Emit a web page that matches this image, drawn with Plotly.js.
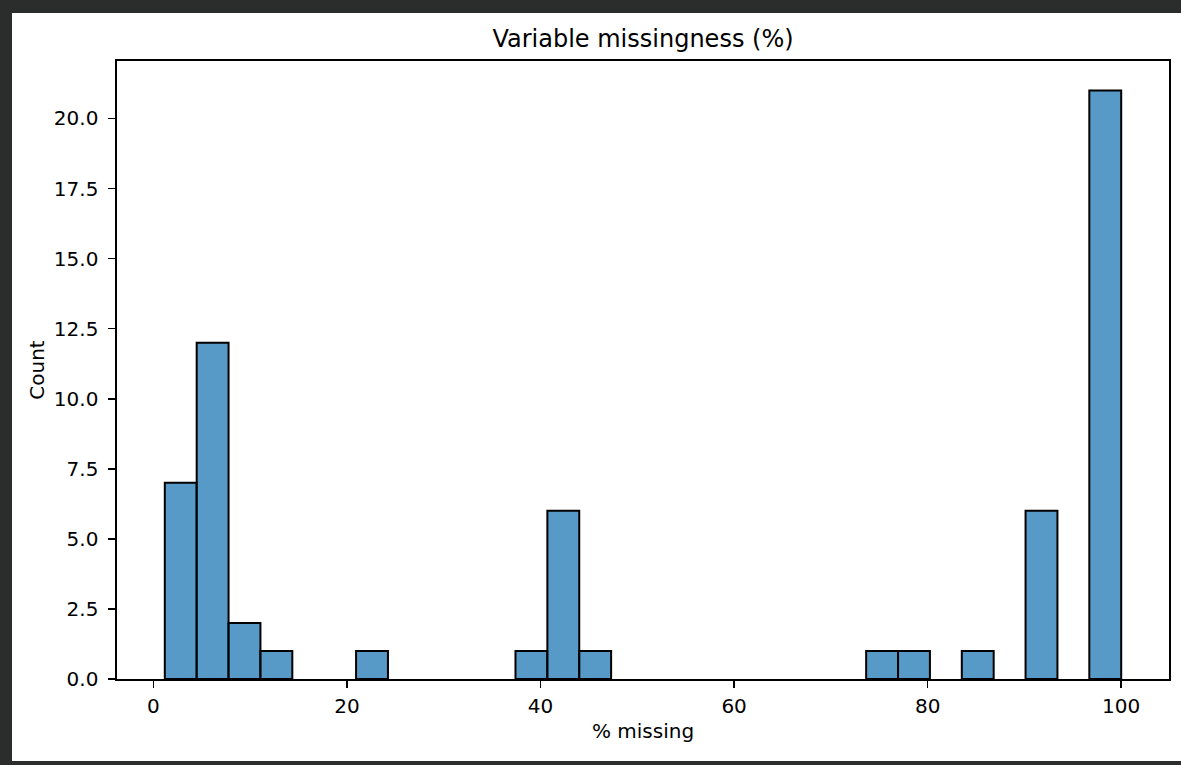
<!DOCTYPE html>
<html>
<head>
<meta charset="utf-8">
<script src="https://cdn.plot.ly/plotly-3.0.1.min.js"></script>
<style>
  html, body { margin: 0; padding: 0; background: #2b2d2d; width: 1181px; height: 765px; overflow: hidden; }
  #chart { position: absolute; left: 12px; top: 13px; width: 1169px; height: 748px; background: #ffffff; }
</style>
</head>
<body>
<div id="chart"></div>
<script>
// Histogram of per-variable missingness: 30 equal bins between the lowest value and 100 %
const binStart = 1.17;
const binEnd = 100;
const counts = [7, 12, 2, 1, 0, 0, 1, 0, 0, 0, 0, 1, 6, 1, 0, 0, 0, 0, 0, 0, 0, 0, 1, 1, 0, 1, 0, 6, 0, 21];
const xTickVals = [0, 20, 40, 60, 80, 100];
const yTickVals = [0, 2.5, 5, 7.5, 10, 12.5, 15, 17.5, 20];

const binWidth = (binEnd - binStart) / counts.length;
const centers = counts.map((_, i) => binStart + binWidth * (i + 0.5));
// empty bins are left undrawn so their outline does not thicken the bottom spine
const heights = counts.map(c => (c === 0 ? null : c));

const font = "DejaVu Sans, sans-serif";

const trace = {
  type: "bar",
  x: centers,
  y: heights,
  width: binWidth,
  marker: {
    color: "rgba(31,119,180,0.75)",
    line: { color: "#000000", width: 2 }
  },
  hoverinfo: "x+y"
};

const layout = {
  width: 1169,
  height: 748,
  margin: { l: 105, r: 12, t: 48, b: 82, pad: 0 },
  paper_bgcolor: "#ffffff",
  plot_bgcolor: "#ffffff",
  showlegend: false,
  bargap: 0,
  font: { family: font, color: "#000000", size: 20 },
  title: {
    text: "Variable missingness (%)",
    font: { family: font, size: 24, color: "#000000" },
    x: 0.5, xref: "paper",
    y: 1, yref: "paper", yanchor: "bottom",
    pad: { b: 14 }
  },
  xaxis: {
    range: [-3.77, 104.94],
    tickvals: xTickVals,
    ticktext: xTickVals.map(String),
    ticks: "outside", ticklen: 7, tickwidth: 1.6, tickcolor: "#000000",
    showline: true, linecolor: "#000000", linewidth: 1.6, mirror: true,
    showgrid: false, zeroline: false,
    tickfont: { family: font, size: 20, color: "#000000" },
    ticklabelstandoff: 1,
    title: { text: "% missing", font: { family: font, size: 20, color: "#000000" }, standoff: 7 },
    automargin: false
  },
  yaxis: {
    range: [0, 22.05],
    tickvals: yTickVals,
    ticktext: yTickVals.map(v => v.toFixed(1)),
    ticks: "outside", ticklen: 7, tickwidth: 1.6, tickcolor: "#000000",
    showline: true, linecolor: "#000000", linewidth: 1.6, mirror: true,
    showgrid: false, zeroline: false,
    tickfont: { family: font, size: 20, color: "#000000" },
    ticklabelstandoff: 6,
    title: { text: "Count", font: { family: font, size: 20, color: "#000000" }, standoff: 4 },
    automargin: false
  }
};

Plotly.newPlot("chart", [trace], layout, { staticPlot: true, displayModeBar: false });
</script>
</body>
</html>
